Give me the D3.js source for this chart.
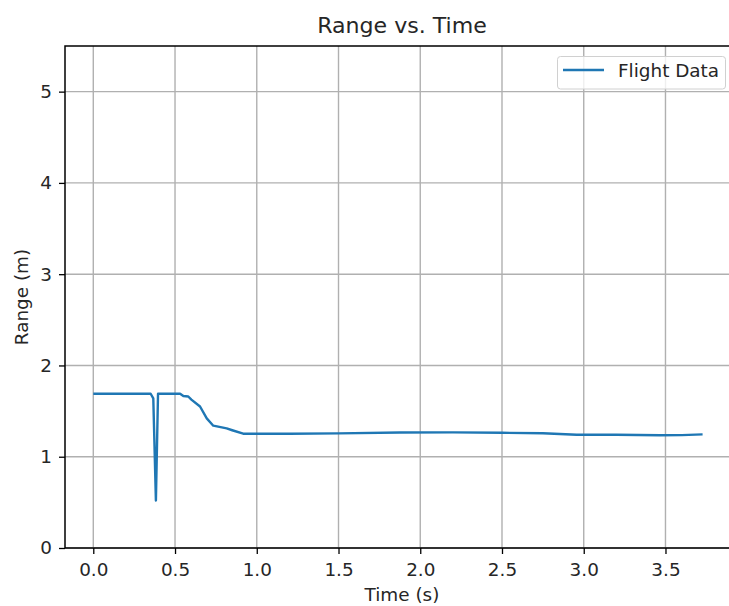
<!DOCTYPE html>
<html>
<head>
<meta charset="utf-8">
<script src="https://cdn.jsdelivr.net/npm/d3@7"></script>
<style>
  html, body { margin: 0; padding: 0; background: #fff; }
  svg { display: block; overflow: hidden; }
  text { font-family: "DejaVu Sans", sans-serif; fill: #262626; }
</style>
</head>
<body>
<svg id="chart" width="729" height="606"></svg>
<script>
// Flight range samples (seconds, metres)
const timeS = [0.0, 0.10, 0.20, 0.30, 0.351, 0.367, 0.383, 0.396, 0.45, 0.531, 0.551, 0.581, 0.60,
  0.653, 0.694, 0.734, 0.816, 0.85, 0.917, 1.2, 1.5, 1.876, 2.2, 2.5, 2.75, 2.957, 3.2, 3.466, 3.6, 3.727];
const rangeM = [1.69, 1.69, 1.69, 1.69, 1.69, 1.64, 0.52, 1.69, 1.69, 1.69, 1.665, 1.66, 1.625,
  1.55, 1.42, 1.34, 1.31, 1.29, 1.252, 1.252, 1.256, 1.266, 1.267, 1.262, 1.258, 1.24, 1.24, 1.235, 1.237, 1.245];

const xTicks = [0.0, 0.5, 1.0, 1.5, 2.0, 2.5, 3.0, 3.5];
const yTicks = [0, 1, 2, 3, 4, 5];
const seriesName = "Flight Data";
const titleText = "Range vs. Time";
const xLabel = "Time (s)";
const yLabel = "Range (m)";

const svg = d3.select("#chart");
const plotL = 65, plotR = 733, plotT = 46, plotB = 548;
const fs = 18.4;

const x = d3.scaleLinear().domain([-0.173, 3.913]).range([plotL, plotR]);
const y = d3.scaleLinear().domain([0, 5.5]).range([plotB, plotT]);

// grid
const grid = svg.append("g");
grid.selectAll("line.vx").data(xTicks).join("line")
  .attr("x1", d => x(d)).attr("x2", d => x(d))
  .attr("y1", plotT).attr("y2", plotB)
  .attr("stroke", "#b0b0b0").attr("stroke-width", 1.4);
grid.selectAll("line.hy").data(yTicks).join("line")
  .attr("x1", plotL).attr("x2", plotR)
  .attr("y1", d => y(d)).attr("y2", d => y(d))
  .attr("stroke", "#b0b0b0").attr("stroke-width", 1.4);

// data line
const pts = timeS.map((t, i) => [t, rangeM[i]]);
svg.append("path")
  .datum(pts)
  .attr("fill", "none")
  .attr("stroke", "#1f77b4")
  .attr("stroke-width", 2.4)
  .attr("stroke-linejoin", "round")
  .attr("d", d3.line().x(d => x(d[0])).y(d => y(d[1])));

// axes
const xAxis = svg.append("g").attr("transform", `translate(0,${plotB})`)
  .call(d3.axisBottom(x).tickValues(xTicks).tickFormat(d3.format(".1f")).tickSize(6).tickPadding(9));
const yAxis = svg.append("g").attr("transform", `translate(${plotL},0)`)
  .call(d3.axisLeft(y).tickValues(yTicks).tickFormat(d3.format("d")).tickSize(6).tickPadding(7));
[xAxis, yAxis].forEach(g => {
  g.select(".domain").remove();
  g.selectAll(".tick line").attr("stroke", "#000").attr("stroke-width", 1.3);
  g.selectAll(".tick text").attr("font-size", fs).attr("font-family", "DejaVu Sans").attr("fill", "#262626");
});

// frame
svg.append("rect")
  .attr("x", plotL).attr("y", plotT)
  .attr("width", plotR - plotL).attr("height", plotB - plotT)
  .attr("fill", "none").attr("stroke", "#000").attr("stroke-width", 1.5);

// labels
svg.append("text").attr("x", 402).attr("y", 33)
  .attr("text-anchor", "middle").attr("font-size", fs * 1.2).text(titleText);
svg.append("text").attr("x", 402).attr("y", 601)
  .attr("text-anchor", "middle").attr("font-size", fs).text(xLabel);
svg.append("text")
  .attr("transform", `translate(28,${(plotT + plotB) / 2}) rotate(-90)`)
  .attr("text-anchor", "middle").attr("font-size", fs).text(yLabel);

// legend
const lg = svg.append("g");
lg.append("rect").attr("x", 557.5).attr("y", 56.5).attr("width", 168).attr("height", 32.5)
  .attr("rx", 3).attr("fill", "#fff").attr("fill-opacity", 0.8)
  .attr("stroke", "#d0d0d0").attr("stroke-width", 1);
lg.append("line").attr("x1", 563).attr("x2", 604).attr("y1", 70).attr("y2", 70)
  .attr("stroke", "#1f77b4").attr("stroke-width", 2.4);
lg.append("text").attr("x", 618).attr("y", 77).attr("font-size", fs).text(seriesName);
</script>
</body>
</html>
